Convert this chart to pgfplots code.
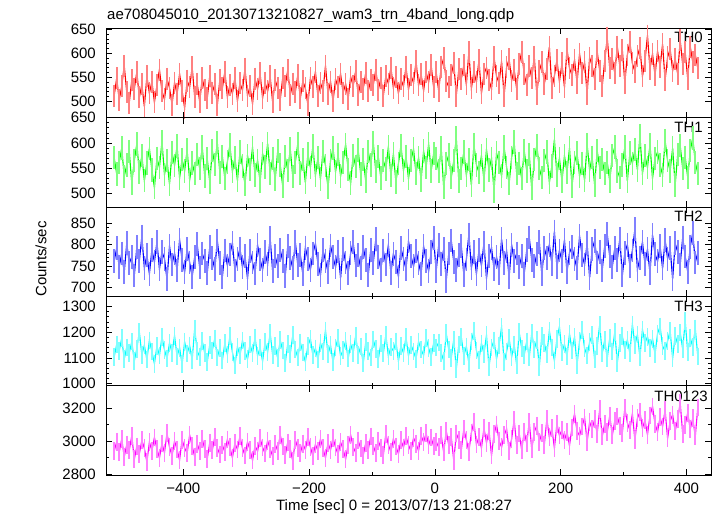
\documentclass[border=0pt]{standalone}
\usepackage{fontspec}
\setmainfont{Liberation Sans}
\usepackage{pgfplots}
\usepackage{pgfplotstable}
\pgfplotsset{compat=1.18}
\definecolor{rd}{RGB}{255,0,0}
\definecolor{gr}{RGB}{0,255,0}
\definecolor{bl}{RGB}{0,0,255}
\definecolor{cy}{RGB}{0,255,255}
\definecolor{mg}{RGB}{255,0,255}

\pgfplotstableread{
t a b c d e
-510 512 571 761 1104 2938
-506 548 539 792 1152 2995
-502 503 562 748 1127 2931
-498 531 590 779 1176 3012
-494 574 534 735 1095 2904
-490 519 557 803 1141 2978
-486 497 583 756 1119 2945
-482 544 521 771 1163 3031
-478 526 566 727 1088 2889
-474 561 598 794 1135 2967
-470 508 543 762 1201 2921
-466 535 575 819 1112 3004
-462 489 526 745 1149 2956
-458 552 561 776 1093 2872
-454 517 589 731 1168 2993
-450 541 547 788 1124 2941
-446 498 512 759 1077 3021
-442 533 570 806 1145 2952
-438 566 552 742 1109 2897
-434 521 603 783 1182 2985
-430 504 538 767 1131 2929
-426 547 565 718 1097 3047
-422 528 519 797 1158 2962
-418 493 581 753 1120 2911
-414 539 556 780 1186 2999
-410 515 594 739 1106 2948
-406 557 531 812 1139 2885
-402 522 568 764 1075 3008
-398 486 545 735 1162 2957
-394 543 586 790 1117 2926
-390 529 527 758 1148 3036
-386 571 561 724 1092 2969
-382 510 540 771 1213 2905
-378 537 577 801 1127 2983
-374 499 550 746 1104 2937
-370 548 592 779 1166 3013
-366 524 535 762 1118 2951
-362 506 569 733 1084 2892
-358 553 523 795 1151 2990
-354 518 585 768 1129 2944
-350 536 558 742 1175 3024
-346 492 601 810 1101 2958
-342 545 542 757 1139 2918
-338 527 574 723 1090 2976
-334 562 530 786 1157 2933
-330 509 563 751 1113 3009
-326 534 596 777 1184 2962
-322 516 544 804 1122 2899
-318 549 571 739 1071 2986
-314 501 526 766 1143 2949
-310 538 582 791 1109 3029
-306 523 555 747 1167 2957
-302 568 518 774 1126 2912
-298 512 575 720 1095 2995
-294 531 548 785 1152 2946
-290 495 591 758 1119 2883
-286 547 537 732 1179 2971
-282 526 566 799 1108 2938
-278 558 524 765 1140 3017
-274 507 579 741 1087 2961
-270 539 553 782 1161 2924
-266 521 599 754 1123 3001
-262 552 540 816 1196 2953
-258 498 570 737 1111 2907
-254 544 528 773 1147 2982
-250 528 584 749 1099 2941
-246 503 557 788 1169 3038
-242 549 515 761 1128 2967
-238 532 573 726 1080 2915
-234 565 546 797 1154 2991
-230 514 588 769 1116 2952
-226 537 534 744 1188 2877
-222 519 562 807 1132 3006
-218 555 599 752 1102 2958
-214 506 541 776 1160 2926
-210 542 567 730 1121 2984
-206 527 522 793 1085 2947
-202 493 578 766 1146 3025
-198 548 552 741 1174 2963
-194 530 594 779 1110 2908
-190 561 536 803 1137 2979
-186 511 571 755 1093 2940
-182 538 529 728 1158 3011
-178 522 583 787 1125 2956
-174 574 556 762 1207 2899
-170 516 512 736 1114 2987
-166 541 565 798 1149 2945
-162 500 590 771 1083 3019
-158 546 543 747 1141 2961
-154 529 577 784 1176 2920
-150 557 535 721 1107 2993
-146 518 562 790 1130 2950
-142 536 597 758 1165 2891
-138 505 548 733 1097 2975
-134 551 521 780 1153 3036
-130 532 576 806 1120 2964
-126 563 554 751 1186 2929
-122 513 586 775 1112 3003
-118 540 539 744 1144 2955
-114 526 568 795 1079 2912
-110 559 525 764 1161 2988
-106 521 583 729 1126 2947
-102 545 557 788 1101 3027
-98 534 601 757 1171 2971
-94 566 544 813 1134 2926
-90 524 573 770 1095 3001
-86 548 531 741 1155 2958
-82 512 565 786 1118 2914
-78 553 549 753 1189 3044
-74 537 592 799 1106 2977
-70 570 536 734 1142 2934
-66 528 578 778 1127 3012
-62 551 523 760 1164 2967
-58 517 560 725 1088 2923
-54 546 595 792 1147 3004
-50 531 546 767 1119 2961
-46 572 574 742 1180 3029
-42 525 530 808 1108 2975
-38 554 566 773 1151 2938
-34 538 588 749 1124 3019
-30 583 540 785 1096 2984
-26 533 571 757 1163 2941
-22 557 527 731 1133 3032
-18 522 584 796 1110 2993
-14 561 552 762 1177 3047
-10 540 598 738 1138 2976
-6 575 545 782 1104 3021
-2 529 579 815 1157 2968
2 560 570 737 1140 2996
6 522 545 799 1160 2962
10 572 590 754 1120 3034
14 590 512 790 1088 2930
18 542 560 715 1196 3062
22 530 577 779 1132 2974
26 555 532 810 1100 3023
30 580 565 759 1172 2880
34 512 610 740 1056 3045
38 567 525 776 1152 3007
42 547 550 796 1180 2946
46 575 582 729 1108 3073
50 535 537 765 1144 3007
54 602 567 824 1080 2935
58 527 517 745 1164 3051
62 562 597 782 1204 3117
66 540 557 731 1128 2979
70 585 542 787 1092 3023
74 517 575 751 1156 2957
78 557 527 804 1116 3078
82 570 587 720 1188 2990
86 545 547 773 1064 3062
90 525 570 793 1140 2913
94 592 505 743 1168 3040
98 552 580 771 1096 3100
102 538 562 734 1148 3001
106 583 535 813 1220 2963
110 511 592 757 1084 3034
114 571 552 785 1124 3073
118 588 520 723 1176 2941
122 543 572 799 1104 3012
126 566 602 762 1152 3128
130 526 540 779 1072 2974
134 578 560 748 1200 3045
138 603 530 773 1136 2946
142 556 585 731 1112 3056
146 533 545 787 1164 2985
150 573 577 817 1101 3115
154 548 510 764 1197 2950
158 593 567 750 1133 3055
162 516 595 778 1169 3093
166 563 550 806 1065 2994
170 581 532 730 1185 3049
174 536 565 792 1157 2978
178 568 582 769 1113 3132
182 613 522 800 1205 3022
186 528 555 755 1141 3077
190 553 607 831 1089 2956
194 586 537 747 1173 3104
198 541 570 786 1221 3033
202 579 525 761 1121 3066
206 529 575 811 1153 3005
210 609 542 736 1105 3055
214 569 590 781 1193 2972
218 554 515 795 1129 3082
222 586 562 767 1181 3164
226 539 580 744 1073 3060
230 599 535 820 1165 3032
234 559 560 775 1209 3088
238 581 527 753 1137 3142
242 516 597 803 1109 2994
246 591 547 722 1161 3115
250 574 572 789 1189 3071
254 546 517 809 1093 3131
258 604 585 758 1145 3043
262 564 552 783 1229 3192
266 531 567 739 1117 3027
270 584 540 797 1169 3104
274 632 562 825 1097 3054
278 569 525 772 1177 3153
282 589 575 747 1125 3033
286 559 592 792 1201 3121
290 614 545 764 1081 3148
294 574 532 814 1157 3093
298 607 557 727 1185 3049
302 539 592 781 1130 3198
306 597 525 800 1170 3110
310 624 580 750 1118 3066
314 579 560 786 1230 3165
318 562 587 837 1150 3005
322 594 547 741 1190 3137
326 612 615 769 1102 3176
330 552 540 806 1210 3077
334 584 575 755 1158 3126
338 637 552 789 1182 3038
342 567 597 733 1138 3154
346 599 530 823 1174 3209
350 554 570 778 1114 3104
354 604 582 761 1194 3055
358 572 557 797 1222 3143
362 619 537 744 1146 3088
366 544 605 811 1126 3187
370 592 565 767 1166 3016
374 609 545 792 1206 3121
378 564 590 719 1098 3159
382 589 517 803 1186 3060
386 557 577 783 1154 3132
390 627 595 753 1198 3231
394 577 550 817 1134 3044
398 602 572 772 1242 3099
402 547 532 736 1122 3170
406 614 585 795 1178 3071
410 582 610 828 1142 3137
414 597 562 758 1214 3027
418 569 540 781 1106 3203
}\lc

\pgfplotsset{
  panel/.style={
    scale only axis, width=605pt, height=89.34pt, anchor=north west,
    xmin=-523, xmax=439,
    xtick={-400,-200,0,200,400}, minor x tick num=1,
    xticklabels={},
    tick align=inside, major tick length=6pt, minor tick length=3pt,
    axis line style={line width=0.8pt, black},
    every tick/.style={black, line width=0.6pt},
    ticklabel style={font=\fontsize{15}{18}\selectfont},
    yticklabel style={/pgf/number format/assume math mode=true, /pgf/number format/1000 sep={}, inner sep=0pt, xshift=-10pt},
    scaled y ticks=false,
  },
  bars/.style={only marks, mark=|, mark size=#1, mark options={line width=1.7pt}},
}
\tikzset{lbl/.style={anchor=north east, inner sep=0pt, font=\fontsize{15}{18}\selectfont}}

\begin{document}
\begin{tikzpicture}
\path[use as bounding box] (0pt,0pt) rectangle (717pt,-516pt);

\begin{axis}[panel, at={(106pt,-28.3pt)}, ymin=466, ymax=652, ytick={500,550,600,650}, minor y tick num=4]
\addplot[rd!50, bars=11pt] table[x=t, y=a]{\lc};
\addplot[rd, line width=1.1pt] table[x=t,y=a]{\lc};
\node[lbl] at (rel axis cs:0.9868,0.955) {TH0};
\end{axis}

\begin{axis}[panel, at={(106pt,-117.64pt)}, ymin=474, ymax=650, ytick={500,550,600,650}, minor y tick num=4]
\addplot[gr!50, bars=11.7pt] table[x=t, y=b]{\lc};
\addplot[gr, line width=1.1pt] table[x=t,y=b]{\lc};
\node[lbl] at (rel axis cs:0.9868,0.955) {TH1};
\end{axis}

\begin{axis}[panel, at={(106pt,-206.98pt)}, ymin=678, ymax=889, ytick={700,750,800,850}, minor y tick num=4]
\addplot[bl!50, bars=11.9pt] table[x=t, y=c]{\lc};
\addplot[bl, line width=1.1pt] table[x=t,y=c]{\lc};
\node[lbl] at (rel axis cs:0.9868,0.955) {TH2};
\end{axis}

\begin{axis}[panel, at={(106pt,-296.32pt)}, ymin=992, ymax=1339, ytick={1000,1100,1200,1300}, minor y tick num=4]
\addplot[cy!50, bars=8.8pt] table[x=t, y=d]{\lc};
\addplot[cy, line width=1.1pt] table[x=t,y=d]{\lc};
\node[lbl] at (rel axis cs:0.9868,0.955) {TH3};
\end{axis}

\begin{axis}[panel, at={(106pt,-385.66pt)}, ymin=2794, ymax=3335, ytick={2800,3000,3200}, minor y tick num=1,
  xticklabels={−400,−200,0,200,400}, xticklabel style={inner sep=0pt, yshift=-8pt}]
\addplot[mg!50, bars=8.9pt] table[x=t, y=e]{\lc};
\addplot[mg, line width=1.1pt] table[x=t,y=e]{\lc};
\node[lbl] at (rel axis cs:0.995,0.945) {TH0123};
\end{axis}

\node[anchor=base west, inner sep=0pt, font=\fontsize{15}{18}\selectfont] at (107pt,-20pt) {ae708045010\_20130713210827\_wam3\_trn\_4band\_long.qdp};
\node[rotate=90, inner sep=0pt, font=\fontsize{15}{18}\selectfont] at (41pt,-259pt) {Counts/sec};
\node[anchor=base, inner sep=0pt, font=\fontsize{15}{18}\selectfont] at (394pt,-510pt) {Time [sec] 0 = 2013/07/13 21:08:27};
\end{tikzpicture}
\end{document}
